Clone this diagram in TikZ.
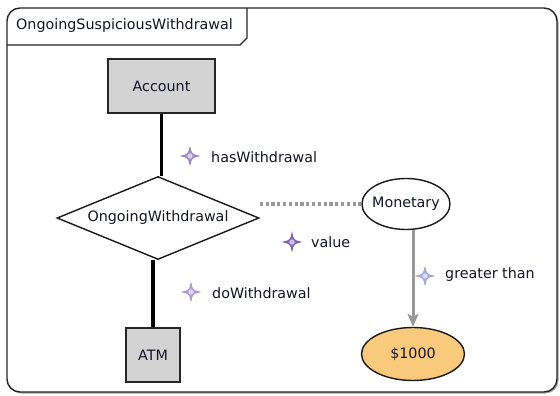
\documentclass[tikz,border=0pt]{standalone}
\usepackage{fontspec}
\setmainfont{DejaVu Sans}
\usetikzlibrary{shapes.geometric,arrows.meta}
\definecolor{boxgray}{HTML}{D3D3D3}
\definecolor{valfill}{HTML}{F9C97C}
\definecolor{inkdark}{HTML}{14142A}
\definecolor{linkgray}{HTML}{999999}
\definecolor{starA}{HTML}{9078BC}
\definecolor{starB}{HTML}{6E4EA2}
\definecolor{starC}{HTML}{A28ED0}
\definecolor{starD}{HTML}{969CD2}
\tikzset{
  every node/.style={font=\fontsize{14.3}{17}\selectfont, text=inkdark},
  concept/.style={draw=black!85, line width=1.4pt, fill=boxgray, inner sep=0pt},
  relation/.style={draw=black!90, line width=1.4pt, fill=white, shape=diamond, inner sep=0pt},
  literal/.style={draw=black!90, line width=1.4pt, ellipse, inner sep=0pt},
  bond/.style={line width=3.4pt, black},
  lbl/.style={anchor=west, inner sep=0pt},
  pics/linkstar/.style={code={
    \fill[#1!80!white, draw=#1, line width=0.6pt]
      (0,-9) .. controls (1.3,-2.2) and (2.2,-1.3) .. (9,0)
      .. controls (2.2,1.3) and (1.3,2.2) .. (0,9)
      .. controls (-1.3,2.2) and (-2.2,1.3) .. (-9,0)
      .. controls (-2.2,-1.3) and (-1.3,-2.2) .. cycle;
    \fill[#1!35!white] (0,0) circle (2.6);
  }}
}
\begin{document}
\begin{tikzpicture}[x=1pt, y=-1pt]
  \useasboundingbox (0,0) rectangle (560,396);

  % outer frame with soft shadow
  \fill[black!35, rounded corners=13pt] (8.5,9.5) rectangle (558.5,393.5);
  \filldraw[fill=white, draw=black!85, line width=1.4pt, rounded corners=13pt]
    (7,8) rectangle (557,392);

  % name tab
  \draw[black!85, line width=1.2pt] (7,45) -- (240,45) -- (247,38) -- (247,8);
  \node[anchor=west, inner sep=0pt] (title) at (16,26) {OngoingSuspiciousWithdrawal};

  % concepts, relation and literals
  \node[concept, minimum width=107pt, minimum height=54pt] (acc) at (161.5,86) {Account};
  \node[relation, minimum width=202pt, minimum height=83pt, aspect=2.43] (dia) at (158,218) {OngoingWithdrawal};
  \node[concept, minimum width=54pt, minimum height=54pt] (atm) at (153,355) {ATM};
  \node[literal, fill=white, inner xsep=-4pt, minimum width=88pt, minimum height=51pt] (mon) at (406,204) {Monetary};
  \node[literal, fill=valfill, inner xsep=-1pt, minimum width=103pt, minimum height=53pt] (amt) at (413,354) {\$1000};

  % connectors
  \draw[bond] (acc.south) -- (acc.south |- dia.north);
  \draw[bond] (atm.north) -- (atm.north |- dia.south);
  \draw[linkgray, line width=3.2pt, dash pattern=on 3.2pt off 2.6pt] (dia.east |- mon.west) -- (mon.west);
  \draw[linkgray, line width=3pt, -{Stealth[length=13pt, width=11pt, inset=3pt]}]
    (mon.south -| amt.north) -- (amt.north);

  % role labels
  \pic at (190,156) {linkstar=starA};
  \node[lbl] (lhas) at (211,157) {hasWithdrawal};
  \pic at (292,242) {linkstar=starB};
  \node[lbl] (lval) at (311,242) {value};
  \pic at (191,292) {linkstar=starC};
  \node[lbl] (ldo) at (212,293) {doWithdrawal};
  \pic at (425,276) {linkstar=starD};
  \node[lbl] (lgt) at (445,275) {greater than};
\end{tikzpicture}
\end{document}
